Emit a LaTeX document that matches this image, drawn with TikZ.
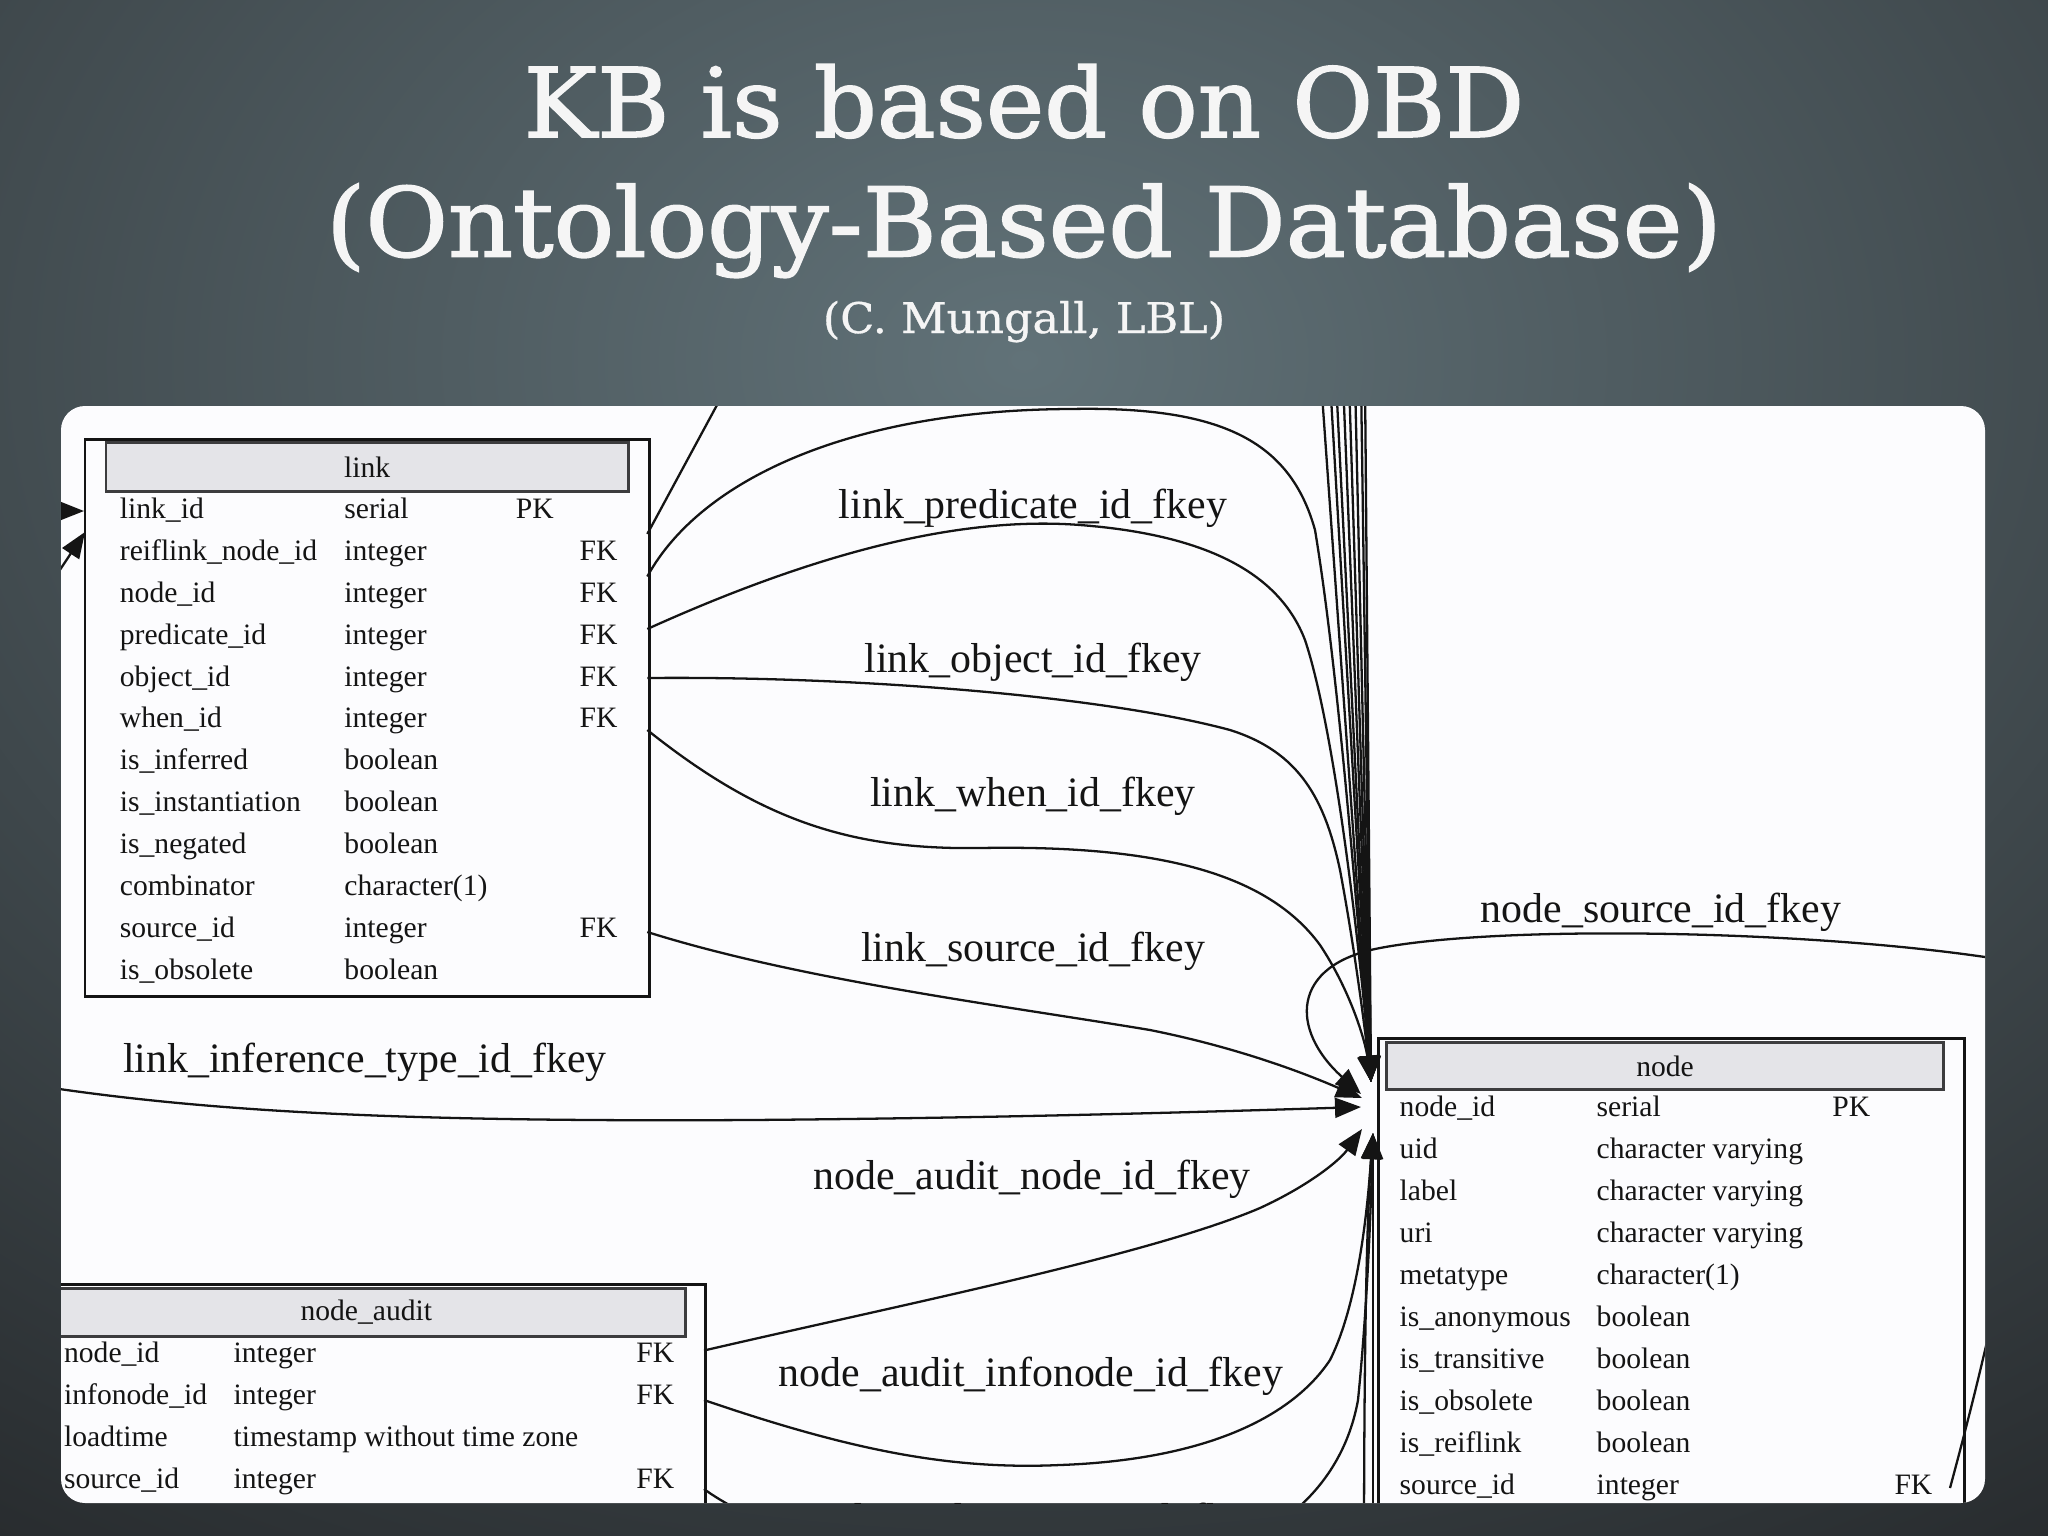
\documentclass[tikz,border=0pt]{standalone}
\usepackage{fontspec}
\setmainfont{Liberation Serif}
\newfontfamily\titlefont[FakeBold=1.6]{DejaVu Serif}
\newfontfamily\subtitlefont[FakeBold=0.8]{DejaVu Serif}
\usetikzlibrary{arrows.meta}
\definecolor{bgcenter}{RGB}{97,114,120}
\definecolor{bgedge}{RGB}{28,29,31}
\definecolor{panelwhite}{RGB}{252,252,254}
\definecolor{hdrfill}{RGB}{228,228,232}
\definecolor{hdrline}{RGB}{60,60,62}
\definecolor{inkc}{RGB}{20,20,20}
\newcommand\tblfont{\fontsize{8.42pt}{10pt}\selectfont}
\newcommand\lblfont{\fontsize{11.9pt}{14pt}\selectfont}
\tikzset{
  tblbox/.style={draw=inkc, line width=0.85pt, inner sep=0pt, anchor=north west},
  hdrbox/.style={draw=hdrline, fill=hdrfill, line width=0.8pt, inner sep=0pt, anchor=north west, font=\tblfont, text=inkc},
  cell/.style={anchor=west, inner sep=0pt, font=\tblfont, text=inkc, text height=0.204cm, text depth=0.065cm},
  elabel/.style={inner sep=0pt, font=\lblfont, text=inkc, text height=0.289cm, text depth=0.092cm},
  fk/.style={draw=inkc, line width=0.65pt, -{Triangle[length=0.26cm,width=0.2cm]}},
  plainedge/.style={draw=inkc, line width=0.65pt},
  titletext/.style={anchor=base, inner sep=0pt, text=white!96!black}
}
\begin{document}
\begin{tikzpicture}[x=0.01cm,y=-0.01cm]
\useasboundingbox (0,0) rectangle (2048,1536);
\fill[bgedge] (0,0) rectangle (2048,1536);
\begin{scope}
  \clip (0,0) rectangle (2048,1536);
  \shade[inner color=bgcenter, outer color=bgedge] (1024,360) ellipse [x radius=23cm, y radius=17cm];
\end{scope}

% title
\node[titletext] (t1) at (1024,137) {\resizebox{10cm}{\height}{\titlefont\fontsize{27.3pt}{30pt}\selectfont KB is based on OBD}};
\node[titletext] (t2) at (1024,256.5) {\resizebox{13.95cm}{\height}{\titlefont\fontsize{27.3pt}{30pt}\selectfont (Ontology-Based Database)}};
\node[titletext] (t3) at (1024,333) {\resizebox{4.02cm}{\height}{\subtitlefont\fontsize{12pt}{14pt}\selectfont (C. Mungall, LBL)}};

% panel
\fill[panelwhite, rounded corners=0.24cm] (61,406) rectangle (1985,1503);
\begin{scope}
\clip[rounded corners=0.24cm] (61,406) rectangle (1985,1503);

% ---- link table
\node[tblbox, minimum width=5.638cm, minimum height=5.567cm] (link) at (83.5,438.3) {};
\node[hdrbox, minimum width=5.223cm, minimum height=0.487cm] (linkh) at (104.5,441.3) {link};
\foreach \n/\t [count=\i from 0] in {link\_id/serial, reiflink\_node\_id/integer, node\_id/integer, predicate\_id/integer, object\_id/integer, when\_id/integer, is\_inferred/boolean, is\_instantiation/boolean, is\_negated/boolean, combinator/character(1), source\_id/integer, is\_obsolete/boolean}{
  \node[cell] (link-n\i) at (119.2,{511.7+41.85*\i}) {\n};
  \node[cell] (link-t\i) at (343.75,{511.7+41.85*\i}) {\t};
}
\node[cell] (link-pk) at (515.2,511.7) {PK};
\foreach \i in {1,2,3,4,5,10}{
  \node[cell] (link-fk\i) at (579,{511.7+41.85*\i}) {FK};
}

% ---- node table
\node[tblbox, minimum width=5.855cm, minimum height=5.1cm] (node) at (1377,1037) {};
\node[hdrbox, minimum width=5.57cm, minimum height=0.47cm] (nodeh) at (1385,1041) {node};
\foreach \n/\t [count=\i from 0] in {node\_id/serial, uid/character varying, label/character varying, uri/character varying, metatype/character(1), is\_anonymous/boolean, is\_transitive/boolean, is\_obsolete/boolean, is\_reiflink/boolean, source\_id/integer}{
  \node[cell] (node-n\i) at (1399,{1109.3+42*\i}) {\n};
  \node[cell] (node-t\i) at (1596,{1109.3+42*\i}) {\t};
}
\node[cell] (node-pk) at (1831.7,1109.3) {PK};
\node[cell] (node-fk) at (1893.8,1487.3) {FK};

% ---- node_audit table
\node[tblbox, minimum width=6.79cm, minimum height=2.7cm] (audit) at (25,1283) {};
\node[hdrbox, minimum width=6.386cm, minimum height=0.48cm] (audith) at (45.4,1287) {node\_audit};
\foreach \n/\t [count=\i from 0] in {node\_id/integer, infonode\_id/integer, loadtime/timestamp without time zone, source\_id/integer}{
  \node[cell] (audit-n\i) at (63.4,{1356+41.8*\i}) {\n};
  \node[cell] (audit-t\i) at (233,{1356+41.8*\i}) {\t};
}
\foreach \i in {0,1,3}{
  \node[cell] (audit-fk\i) at (635.7,{1356+41.8*\i}) {FK};
}

% ---- ports and free ends
\coordinate (lp1) at (647.3,534);
\coordinate (lp2) at (647.3,576.5);
\coordinate (lp3) at (647.3,629);
\coordinate (lp4) at (647.3,678);
\coordinate (lp5) at (647.3,730);
\coordinate (lp6) at (647.3,932);
\coordinate (lw1) at (84,511);
\coordinate (lw2) at (85,532);
\coordinate (ol1) at (10,511);
\coordinate (ol2) at (40,600);
\coordinate (o1) at (737,368);
\coordinate (tA) at (1371,1082);
\coordinate (tB) at (1361,1094);
\coordinate (tB2) at (1362,1098);
\coordinate (tC) at (1361,1107);
\coordinate (tD) at (1362,1129);
\coordinate (tE) at (1373,1133);
\coordinate (ne) at (1950,1488);
\coordinate (ap1) at (704,1350.5);
\coordinate (ap2) at (704,1400);
\coordinate (ap3) at (704,1489);
\coordinate (oi) at (20,1083);
\coordinate (ov1) at (1364,1560);
\coordinate (ov2) at (1373,1560);

% ---- edges
\draw[plainedge] (lp1) -- (o1);
\draw[fk] (ol1) -- (lw1);
\draw[fk] (ol2) -- (lw2);
\draw[fk] (lp2) .. controls (700,480) and (850,410) .. (1070,409) .. controls (1220,406) and (1290,440) .. (1315,530) .. controls (1340,680) and (1360,950) .. (tA);
\draw[fk] (lp3) .. controls (800,560) and (950,515) .. (1080,525) .. controls (1210,535) and (1280,575) .. (1305,640) .. controls (1335,730) and (1360,950) .. (tA);
\draw[fk] (lp4) .. controls (850,676) and (1100,695) .. (1230,730) .. controls (1300,752) and (1325,800) .. (1340,870) .. controls (1355,950) and (1365,1030) .. (tA);
\draw[fk] (lp5) .. controls (760,820) and (850,850) .. (980,848) .. controls (1150,845) and (1265,870) .. (1320,945) .. controls (1350,990) and (1365,1040) .. (tA);
\draw[fk] (lp6) .. controls (800,980) and (1000,1005) .. (1150,1030) .. controls (1250,1050) and (1320,1080) .. (tB2);
\draw[fk] (ne) .. controls (1990,1340) and (2085,968) .. (1985,957) .. controls (1800,930) and (1500,925) .. (1380,948) .. controls (1290,965) and (1290,1030) .. (tB);
\draw[fk] (oi) .. controls (200,1112) and (400,1122) .. (750,1120) .. controls (1000,1118) and (1200,1112) .. (tC);
\draw[fk] (ap1) .. controls (900,1305) and (1150,1255) .. (1260,1208) .. controls (1310,1185) and (1340,1160) .. (tD);
\draw[fk] (ap2) .. controls (850,1450) and (950,1470) .. (1060,1465) .. controls (1200,1460) and (1290,1420) .. (1330,1360) .. controls (1360,1300) and (1368,1200) .. (tE);
\draw[fk] (ap3) .. controls (760,1530) and (900,1580) .. (1050,1580) .. controls (1250,1580) and (1340,1500) .. (1358,1400) .. controls (1368,1300) and (1371,1200) .. (tE);
\draw[fk] (ov1) .. controls (1364,1300) and (1368,1200) .. (tE);
\draw[fk] (ov2) -- (tE);
\foreach \bx [count=\j] in {1321,1330,1336,1343,1349,1355,1361,1365}{
  \coordinate (bt\j) at (\bx,380);
  \draw[fk] (bt\j) -- (tA);
}

% ---- edge labels
\node[elabel] (lbl-pred) at (1033,509) {link\_predicate\_id\_fkey};
\node[elabel] (lbl-obj) at (1033,663) {link\_object\_id\_fkey};
\node[elabel] (lbl-when) at (1033,797) {link\_when\_id\_fkey};
\node[elabel] (lbl-src) at (1033,952) {link\_source\_id\_fkey};
\node[elabel] (lbl-inf) at (365,1063) {link\_inference\_type\_id\_fkey};
\node[elabel] (lbl-nsrc) at (1661,913) {node\_source\_id\_fkey};
\node[elabel] (lbl-ann) at (1032,1180) {node\_audit\_node\_id\_fkey};
\node[elabel] (lbl-ain) at (1031,1377) {node\_audit\_infonode\_id\_fkey};
\node[elabel] (lbl-asrc) at (1034,1523) {node\_audit\_source\_id\_fkey};
\end{scope}
\end{tikzpicture}
\end{document}
